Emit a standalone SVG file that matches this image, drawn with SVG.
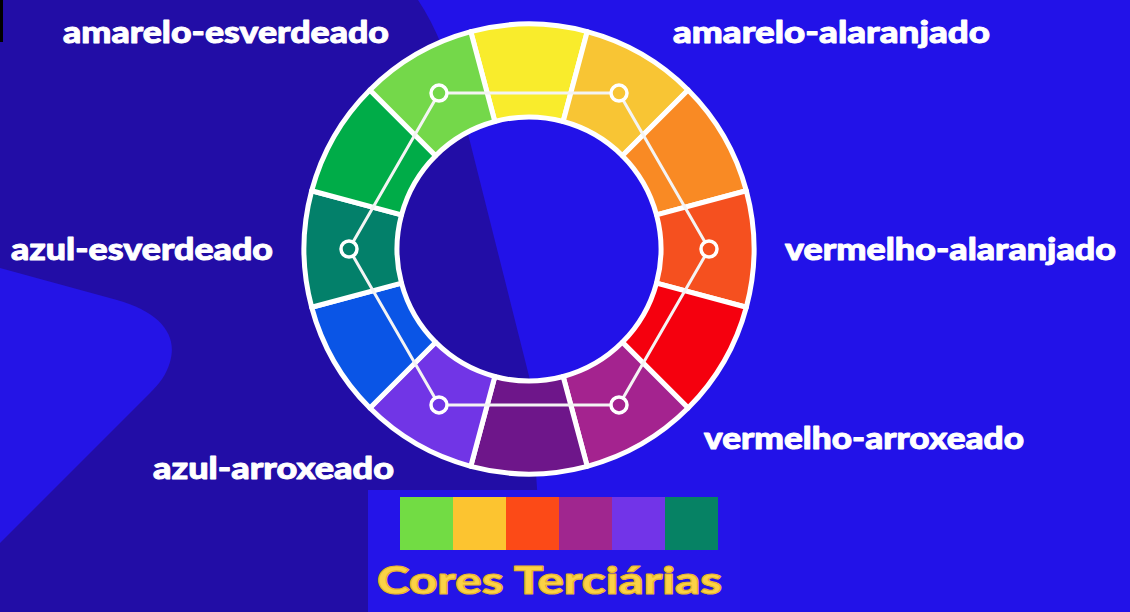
<svg xmlns="http://www.w3.org/2000/svg" width="1130" height="612" viewBox="0 0 1130 612">
  <style>
    .seg { stroke: #ffffff; stroke-width: 5; stroke-linejoin: round; }
    .lbl { font-family: "Lato", "Open Sans", "Liberation Sans", sans-serif; font-weight: 900; font-size: 30px; fill: #ffffff; stroke: #ffffff; stroke-width: 0.9; stroke-linejoin: round; }
    .title { font-family: "Lato", "Open Sans", "Liberation Sans", sans-serif; font-weight: 900; font-size: 38px; fill: #fbd246; stroke: #e9b52c; stroke-width: 1.2; stroke-linejoin: round; }
    .hex { fill: none; stroke: #f4f4f4; stroke-width: 3; stroke-linejoin: round; }
    .pt { stroke: #ffffff; stroke-width: 3.5; }
  </style>

  <!-- background -->
  <g id="background">
    <rect x="0" y="0" width="1130" height="612" fill="#2212e8"/>
    <path d="M0,0 L418,0 Q445,40 462,110 L530,380 L545,612 L0,612 Z" fill="#220da6"/>
    <path d="M0,268 L117,300 C160,312 178,335 170,362 C166,375 160,383 150,393 L0,543 Z" fill="#2414e6"/>
    <rect x="0" y="0" width="3" height="42" fill="#000000"/>
  </g>

  <!-- colour wheel -->
  <g id="wheel">
    <path id="seg-amarelo" class="seg" fill="#f9ec2c" d="M470.77,31.67 A225,225 0 0 1 587.23,31.67 L563.16,121.50 A132,132 0 0 0 494.84,121.50 Z"/>
    <path id="seg-amarelo-alaranjado" class="seg" fill="#f8c534" d="M587.23,31.67 A225,225 0 0 1 688.10,89.90 L622.34,155.66 A132,132 0 0 0 563.16,121.50 Z"/>
    <path id="seg-laranja" class="seg" fill="#f98a24" d="M688.10,89.90 A225,225 0 0 1 746.33,190.77 L656.50,214.84 A132,132 0 0 0 622.34,155.66 Z"/>
    <path id="seg-vermelho-alaranjado" class="seg" fill="#f5501f" d="M746.33,190.77 A225,225 0 0 1 746.33,307.23 L656.50,283.16 A132,132 0 0 0 656.50,214.84 Z"/>
    <path id="seg-vermelho" class="seg" fill="#f5000e" d="M746.33,307.23 A225,225 0 0 1 688.10,408.10 L622.34,342.34 A132,132 0 0 0 656.50,283.16 Z"/>
    <path id="seg-vermelho-arroxeado" class="seg" fill="#a4238f" d="M688.10,408.10 A225,225 0 0 1 587.23,466.33 L563.16,376.50 A132,132 0 0 0 622.34,342.34 Z"/>
    <path id="seg-roxo" class="seg" fill="#6e168a" d="M587.23,466.33 A225,225 0 0 1 470.77,466.33 L494.84,376.50 A132,132 0 0 0 563.16,376.50 Z"/>
    <path id="seg-azul-arroxeado" class="seg" fill="#7135e6" d="M470.77,466.33 A225,225 0 0 1 369.90,408.10 L435.66,342.34 A132,132 0 0 0 494.84,376.50 Z"/>
    <path id="seg-azul" class="seg" fill="#0a55e6" d="M369.90,408.10 A225,225 0 0 1 311.67,307.23 L401.50,283.16 A132,132 0 0 0 435.66,342.34 Z"/>
    <path id="seg-azul-esverdeado" class="seg" fill="#03806a" d="M311.67,307.23 A225,225 0 0 1 311.67,190.77 L401.50,214.84 A132,132 0 0 0 401.50,283.16 Z"/>
    <path id="seg-verde" class="seg" fill="#00ac48" d="M311.67,190.77 A225,225 0 0 1 369.90,89.90 L435.66,155.66 A132,132 0 0 0 401.50,214.84 Z"/>
    <path id="seg-amarelo-esverdeado" class="seg" fill="#74d84a" d="M369.90,89.90 A225,225 0 0 1 470.77,31.67 L494.84,121.50 A132,132 0 0 0 435.66,155.66 Z"/>
  </g>

  <!-- connectors (hexagon) -->
  <g id="connectors">
    <polygon class="hex" points="439,93.12 619,93.12 709,249 619,404.88 439,404.88 349,249"/>
  </g>

  <g id="points">
    <circle class="pt" cx="439" cy="93.12" r="8" fill="#74d84a"/>
    <circle class="pt" cx="619" cy="93.12" r="8" fill="#f8c534"/>
    <circle class="pt" cx="709" cy="249" r="8" fill="#f5501f"/>
    <circle class="pt" cx="619" cy="404.88" r="8" fill="#a4238f"/>
    <circle class="pt" cx="439" cy="404.88" r="8" fill="#7135e6"/>
    <circle class="pt" cx="349" cy="249" r="8" fill="#03806a"/>
  </g>

  <!-- labels -->
  <g id="label-amarelo-esverdeado"><text class="lbl" x="63" y="43" textLength="326" lengthAdjust="spacingAndGlyphs">amarelo-esverdeado</text></g>
  <g id="label-amarelo-alaranjado"><text class="lbl" x="673" y="43" textLength="317" lengthAdjust="spacingAndGlyphs">amarelo-alaranjado</text></g>
  <g id="label-azul-esverdeado"><text class="lbl" x="11" y="260" textLength="262" lengthAdjust="spacingAndGlyphs">azul-esverdeado</text></g>
  <g id="label-vermelho-alaranjado"><text class="lbl" x="785" y="260" textLength="331" lengthAdjust="spacingAndGlyphs">vermelho-alaranjado</text></g>
  <g id="label-azul-arroxeado"><text class="lbl" x="153" y="479" textLength="241" lengthAdjust="spacingAndGlyphs">azul-arroxeado</text></g>
  <g id="label-vermelho-arroxeado"><text class="lbl" x="704" y="449" textLength="320" lengthAdjust="spacingAndGlyphs">vermelho-arroxeado</text></g>

  <!-- legend -->
  <g id="legend">
    <rect x="368" y="490" width="372" height="122" fill="#2414e8"/>
    <rect x="400" y="497" width="53" height="53" fill="#72dc44"/>
    <rect x="453" y="497" width="53" height="53" fill="#fcc430"/>
    <rect x="506" y="497" width="53" height="53" fill="#fc4a17"/>
    <rect x="559" y="497" width="53" height="53" fill="#a0268f"/>
    <rect x="612" y="497" width="53" height="53" fill="#7234e8"/>
    <rect x="665" y="497" width="53" height="53" fill="#068264"/>
    <text class="title" x="377" y="594" textLength="345" lengthAdjust="spacingAndGlyphs">Cores Terciárias</text>
  </g>
</svg>
